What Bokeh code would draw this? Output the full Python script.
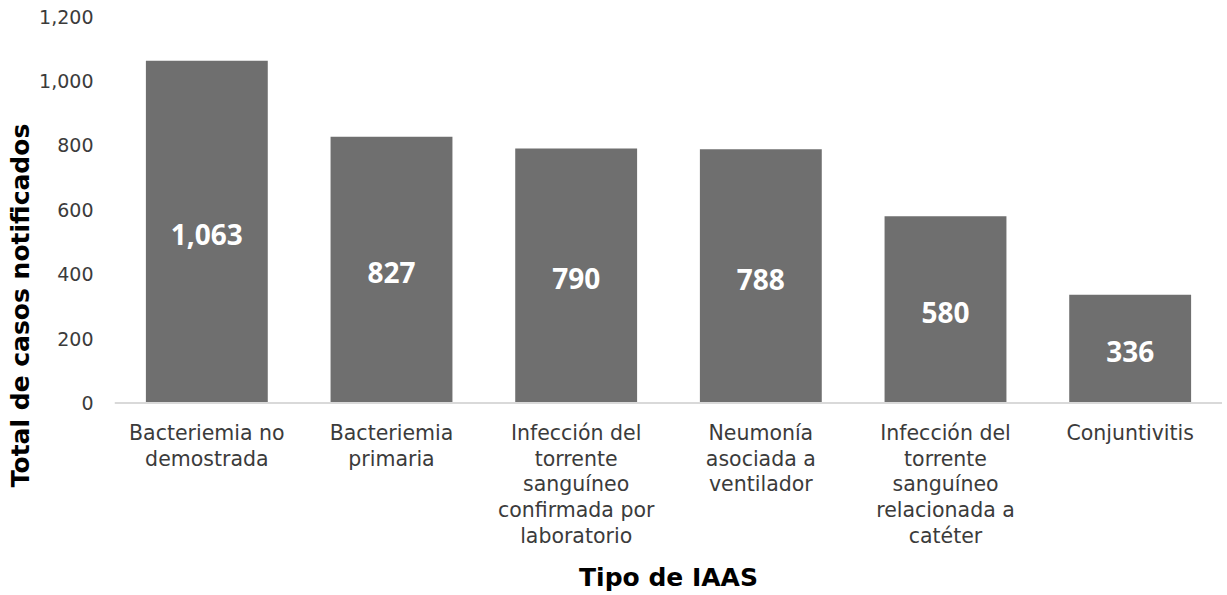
from bokeh.plotting import figure
from bokeh.models import ColumnDataSource, FactorRange, Range1d, FixedTicker, NumeralTickFormatter, Span
from bokeh.core.properties import value
from bokeh.embed import file_html
from bokeh.resources import INLINE

categories = [
    "Bacteriemia no\ndemostrada",
    "Bacteriemia\nprimaria",
    "Infección del\ntorrente\nsanguíneo\nconfirmada por\nlaboratorio",
    "Neumonía\nasociada a\nventilador",
    "Infección del\ntorrente\nsanguíneo\nrelacionada a\ncatéter",
    "Conjuntivitis",
]
values = [1063, 827, 790, 788, 580, 336]
y_ticks = [0, 200, 400, 600, 800, 1000, 1200]
x_title = "Tipo de IAAS"
y_title = "Total de casos notificados"

FONT = "DejaVu Sans"
VFONT = "Open Sans"

src = ColumnDataSource(dict(
    cat=categories,
    val=values,
    mid=[v / 2 for v in values],
    lab=[f"{v:,}" for v in values],
))

# frame extends below zero so the multi-line category labels can be drawn as text
p = figure(
    x_range=FactorRange(factors=categories),
    y_range=Range1d(-594, 1200),
    width=1222, height=594,
    output_backend="svg", toolbar_location=None,
    min_border_left=114, min_border_right=0,
    min_border_top=16, min_border_bottom=0,
)

p.vbar(x="cat", top="val", width=0.66, source=src, fill_color="#6f6f6f", line_color=None)
p.text(x="cat", y="mid", text="lab", source=src, text_color="white",
       text_font=value(VFONT), text_font_style="bold", text_font_size="28px",
       text_align="center", text_baseline="middle", y_offset=3)

# baseline (x axis line)
p.add_layout(Span(location=0, dimension="width", line_color="#d9d9d9", line_width=2))

# category labels
p.text(x="cat", y=-55, text="cat", source=src, text_color="#3b3b3b",
       text_font=value(FONT), text_font_size="20.5px", text_line_height=1.07,
       text_align="center", text_baseline="top")

# x axis title
p.text(x=[3.0], y=[-541], text=[x_title], text_color="black",
       text_font=value(FONT), text_font_style="bold", text_font_size="25px",
       text_align="center", text_baseline="middle")

p.outline_line_color = None
p.xgrid.visible = False
p.ygrid.visible = False
p.xaxis.visible = False

ya = p.yaxis[0]
ya.ticker = FixedTicker(ticks=y_ticks)
ya.formatter = NumeralTickFormatter(format="0,0")
ya.axis_line_color = None
ya.major_tick_line_color = None
ya.minor_tick_line_color = None
ya.major_tick_out = 0
ya.major_tick_in = 0
ya.major_label_standoff = 21
ya.major_label_text_font = FONT
ya.major_label_text_font_size = "19px"
ya.major_label_text_color = "#3b3b3b"
ya.axis_label = y_title
ya.axis_label_text_font = FONT
ya.axis_label_text_font_size = "25px"
ya.axis_label_text_font_style = "bold"
ya.axis_label_text_color = "black"
ya.axis_label_standoff = 1

open("out.html", "w").write(file_html(p, INLINE))
